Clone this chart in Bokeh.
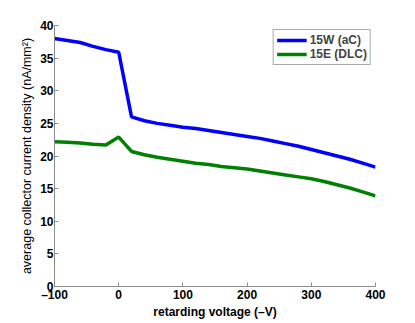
from bokeh.plotting import figure
from bokeh.models import Legend, LegendItem, FixedTicker, Range1d
from bokeh.embed import file_html
from bokeh.resources import INLINE

voltage = [-100, -80, -60, -40, -20, 0, 20, 40, 60, 80, 100, 120, 140, 160, 180, 200,
           220, 240, 260, 280, 300, 320, 340, 360, 380, 400]
w15_ac = [38.0, 37.7, 37.4, 36.8, 36.3, 35.9, 26.0, 25.4, 25.0, 24.7, 24.4, 24.2, 23.9,
          23.6, 23.3, 23.0, 22.7, 22.3, 21.9, 21.5, 21.0, 20.5, 20.0, 19.5, 18.9, 18.3]
e15_dlc = [22.2, 22.1, 22.0, 21.8, 21.7, 22.9, 20.7, 20.2, 19.8, 19.5, 19.2, 18.9, 18.7,
           18.4, 18.2, 18.0, 17.7, 17.4, 17.1, 16.8, 16.5, 16.1, 15.6, 15.1, 14.5, 13.9]
x_ticks = [-100, 0, 100, 200, 300, 400]
y_ticks = [0, 5, 10, 15, 20, 25, 30, 35, 40]

p = figure(width=399, height=321, output_backend="svg", toolbar_location=None,
           x_range=Range1d(-100, 400), y_range=Range1d(0, 40),
           min_border_left=54, min_border_right=24, min_border_top=25, min_border_bottom=34)
p.outline_line_color = None
p.grid.visible = False

r1 = p.line(voltage, w15_ac, line_color="#0000ff", line_width=3.5)
r2 = p.line(voltage, e15_dlc, line_color="#008000", line_width=3.5)

font = "Liberation Sans"
for ax in (p.xaxis[0], p.yaxis[0]):
    ax.axis_line_color = "#8c8c8c"
    ax.major_tick_line_color = "#8c8c8c"
    ax.minor_tick_line_color = None
    ax.major_tick_in = 4
    ax.major_tick_out = 0
    ax.major_label_text_font = font
    ax.major_label_text_font_style = "bold"
    ax.major_label_text_font_size = "12px"
    ax.major_label_text_color = "black"
    ax.axis_label_text_font = font
    ax.axis_label_text_font_style = "bold"
    ax.axis_label_text_font_size = "12px"
    ax.axis_label_text_color = "black"
    ax.major_label_standoff = 1
    ax.axis_label_standoff = 0

p.xaxis.ticker = FixedTicker(ticks=x_ticks)
p.yaxis.ticker = FixedTicker(ticks=y_ticks)
p.xaxis.major_label_overrides = {-100: "\u2013100"}
p.xaxis.axis_label = "retarding voltage (\u2013V)"
p.yaxis.axis_label = "average collector current density (nA/mm\u00b2)"
p.yaxis.axis_label_text_font_style = "normal"
p.yaxis.axis_label_text_font_size = "12.5px"
p.yaxis.axis_label_standoff = 3
p.xaxis.axis_label_text_font_style = "bold"

legend = Legend(items=[LegendItem(label="15W (aC)", renderers=[r1]),
                       LegendItem(label="15E (DLC)", renderers=[r2])],
                location="top_right")
legend.label_text_font = font
legend.label_text_font_style = "bold"
legend.label_text_font_size = "12px"
legend.border_line_color = "#555555"
legend.border_line_width = 1
legend.glyph_width = 30
legend.glyph_height = 14
legend.label_height = 14
legend.spacing = 0
legend.padding = 3
legend.margin = 4
legend.label_standoff = 3
p.add_layout(legend)

open("out.html", "w").write(file_html(p, INLINE))
